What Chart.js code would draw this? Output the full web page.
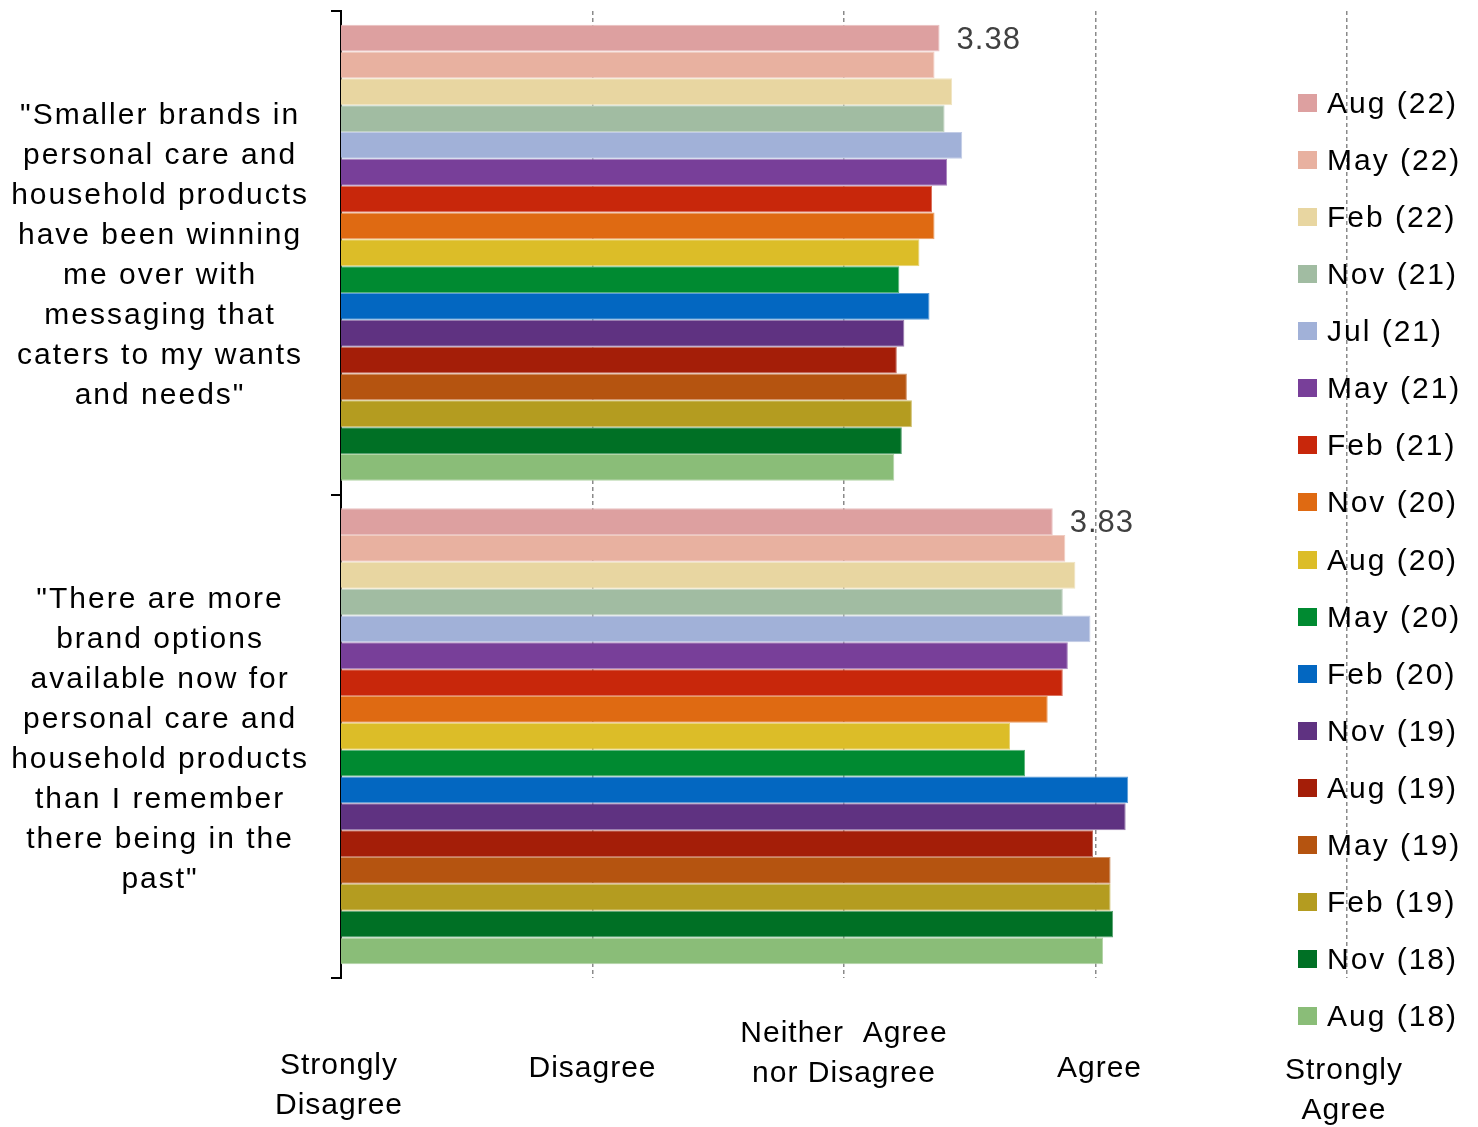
<!DOCTYPE html>
<html>
<head>
<meta charset="utf-8">
<script src="https://cdn.jsdelivr.net/npm/chart.js@4/dist/chart.umd.min.js"></script>
<style>
  html, body { margin: 0; padding: 0; background: #fff; }
  #wrap { position: relative; width: 1478px; height: 1127px; }
  #c { position: absolute; left: 0; top: 0; }
  #legend { position: absolute; left: 1298px; top: 0; font-family: "Liberation Sans", Arial, sans-serif; font-size: 30px; letter-spacing: 2px; color: #000; }
  .item { position: absolute; left: 0; height: 34px; display: flex; align-items: center; white-space: nowrap; }
  .sw { width: 19px; height: 18px; margin-right: 10px; flex: none; }
</style>
</head>
<body>
<div id="wrap">
  <canvas id="c" width="1478" height="1127"></canvas>
  <div id="legend"></div>
</div>
<script>
// Survey statements (one bar group each)
const statements = [
  ['"Smaller brands in', 'personal care and', 'household products', 'have been winning', 'me over with', 'messaging that', 'caters to my wants', 'and needs"'],
  ['"There are more', 'brand options', 'available now for', 'personal care and', 'household products', 'than I remember', 'there being in the', 'past"']
];

// Survey waves, newest first
const waves = ['Aug (22)', 'May (22)', 'Feb (22)', 'Nov (21)', 'Jul (21)', 'May (21)', 'Feb (21)', 'Nov (20)',
               'Aug (20)', 'May (20)', 'Feb (20)', 'Nov (19)', 'Aug (19)', 'May (19)', 'Feb (19)', 'Nov (18)', 'Aug (18)'];

// Mean agreement (1 = Strongly Disagree ... 5 = Strongly Agree)
const smallerBrands = [3.38, 3.36, 3.43, 3.40, 3.47, 3.41, 3.35, 3.36, 3.30, 3.22, 3.34, 3.24, 3.21, 3.25, 3.27, 3.23, 3.20];
const moreOptions   = [3.83, 3.88, 3.92, 3.87, 3.98, 3.89, 3.87, 3.81, 3.66, 3.72, 4.13, 4.12, 3.99, 4.06, 4.06, 4.07, 4.03];

// Agreement scale labels
const scaleValues = [1, 2, 3, 4, 5];
const scaleLabels = [['Strongly', 'Disagree'], ['Disagree'], ['Neither  Agree', 'nor Disagree'], ['Agree'], ['Strongly', 'Agree']];

// Wave colours
const waveColors = ['#dda0a0', '#e8b1a0', '#e8d6a1', '#a1bca2', '#a1b1d8', '#783f99', '#c8270b', '#df6a12',
                    '#dcbd28', '#008a31', '#0367c1', '#5f3281', '#a41e08', '#b55410', '#b49c20', '#007025', '#8abd78'];

function lighten(hex, t) {
  const n = parseInt(hex.slice(1), 16);
  const r = (n >> 16) & 255, g = (n >> 8) & 255, b = n & 255;
  const m = v => Math.round(v + (255 - v) * t);
  return `rgb(${m(r)},${m(g)},${m(b)})`;
}

const FONT = '"Liberation Sans", Arial, sans-serif';

const datasets = waves.map((w, i) => ({
  label: w,
  data: [smallerBrands[i], moreOptions[i]],
  backgroundColor: waveColors[i],
  borderColor: lighten(waveColors[i], 0.35),
  borderWidth: 1,
  barPercentage: 1.0,
  categoryPercentage: 0.9436
}));

// Chart text is drawn slightly tracked out
const textSpacing = {
  id: 'textSpacing',
  beforeUpdate(chart) { chart.ctx.letterSpacing = '2px'; },
  beforeDraw(chart) { chart.ctx.letterSpacing = '2px'; }
};

// Agreement scale labels under the plot
const scaleText = {
  id: 'scaleText',
  afterDraw(chart) {
    const ctx = chart.ctx, x = chart.scales.x, base = chart.chartArea.bottom;
    const dy = [88, 91, 56, 91, 93];   // first line centre below plot
    const dx = [-2, 0, 0, 4, -3];
    ctx.save();
    ctx.letterSpacing = '1px';
    ctx.font = '30px ' + FONT;
    ctx.fillStyle = '#000';
    ctx.textAlign = 'center';
    ctx.textBaseline = 'middle';
    scaleValues.forEach((v, i) => {
      const px = x.getPixelForValue(v) + dx[i];
      scaleLabels[i].forEach((line, j) => ctx.fillText(line, px, base + dy[i] + j * 40));
    });
    ctx.restore();
  }
};

// Value label on the latest wave's bars
const latestValue = {
  id: 'latestValue',
  afterDatasetsDraw(chart) {
    const ctx = chart.ctx, meta = chart.getDatasetMeta(0);
    ctx.save();
    ctx.letterSpacing = '1px';
    ctx.font = '31px ' + FONT;
    ctx.fillStyle = '#404040';
    ctx.textAlign = 'left';
    ctx.textBaseline = 'middle';
    meta.data.forEach((bar, i) => {
      ctx.fillText(chart.data.datasets[0].data[i].toFixed(2), bar.x + 17, bar.y + 2);
    });
    ctx.restore();
  }
};

const chart = new Chart(document.getElementById('c'), {
  type: 'bar',
  data: { labels: statements, datasets },
  plugins: [textSpacing, scaleText, latestValue],
  options: {
    indexAxis: 'y',
    responsive: false,
    devicePixelRatio: 1,
    animation: false,
    layout: { padding: { top: 11, right: 131, left: 0, bottom: 0 } },
    plugins: { legend: { display: false }, tooltip: { enabled: false } },
    scales: {
      x: {
        type: 'linear',
        min: 1,
        max: 5,
        ticks: { stepSize: 1, display: false },
        border: { display: false, dash: [4, 3] },
        grid: {
          drawTicks: false,
          lineWidth: 1.5,
          color: c => (c.tick && c.tick.value === 1) ? 'rgba(0,0,0,0)' : '#8a8a8a'
        },
        afterFit(scale) {
          scale.height = 149;
          scale.paddingLeft = 0; scale.paddingRight = 0;
        }
      },
      y: {
        ticks: {
          color: '#000',
          font: { family: FONT, size: 30, lineHeight: 40 / 30 },
          crossAlign: 'center',
          padding: 22,
          labelOffset: 3
        },
        border: { display: true, color: '#000', width: 2 },
        grid: { drawOnChartArea: false, drawTicks: true, tickLength: 10, color: '#000', lineWidth: 2 },
        afterFit(scale) {
          scale.width = 341;
          scale.paddingTop = 0; scale.paddingBottom = 0;
        }
      }
    }
  }
});

// Legend listing the waves
const legend = document.getElementById('legend');
chart.data.datasets.forEach((ds, i) => {
  const item = document.createElement('div');
  item.className = 'item';
  item.style.top = (103 + i * 57.07 - 17) + 'px';
  const sw = document.createElement('span');
  sw.className = 'sw';
  sw.style.background = ds.backgroundColor;
  const tx = document.createElement('span');
  tx.textContent = ds.label;
  item.appendChild(sw);
  item.appendChild(tx);
  legend.appendChild(item);
});
</script>
</body>
</html>
